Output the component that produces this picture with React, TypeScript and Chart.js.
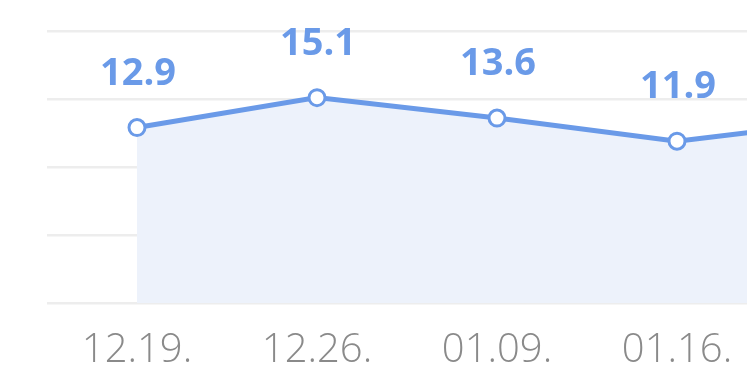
import React, { useEffect, useRef } from 'react';
import { Chart, registerables } from 'chart.js';

Chart.register(...registerables);

const categories = ['12.19.', '12.26.', '01.09.', '01.16.', '01.23.'];
const values = [12.9, 15.1, 13.6, 11.9, 13.5];
const yTicks = [0, 5, 10, 15, 20];

const LINE = '#6a9ae8';
const FILL = '#edf2fb';
const GRID = '#ededed';
const TICK = '#8a8a8a';

const valueLabels = {
  id: 'valueLabels',
  afterDatasetsDraw(chart: any) {
    const ctx = chart.ctx;
    const meta = chart.getDatasetMeta(0);
    ctx.save();
    ctx.font = 'bold 38px "Open Sans"';
    ctx.fillStyle = LINE;
    ctx.textAlign = 'center';
    ctx.textBaseline = 'alphabetic';
    meta.data.forEach((pt: any, i: number) => {
      ctx.fillText(values[i].toFixed(1), pt.x + 1, pt.y - 43);
    });
    ctx.restore();
  },
};

export default function App() {
  const ref = useRef<HTMLCanvasElement | null>(null);
  useEffect(() => {
    document.body.style.margin = '0';
    document.body.style.overflow = 'hidden';
    const canvas = ref.current!;
    const chart = new Chart(canvas, {
      type: 'line',
      data: {
        labels: categories,
        datasets: [
          {
            data: values,
            borderColor: LINE,
            borderWidth: 5,
            backgroundColor: FILL,
            fill: 'origin',
            tension: 0,
            pointRadius: 8,
            pointBorderWidth: 3,
            pointBackgroundColor: '#ffffff',
            pointBorderColor: LINE,
          },
        ],
      },
      options: {
        responsive: false,
        maintainAspectRatio: false,
        animation: false,
        devicePixelRatio: 1,
        layout: { padding: { top: 31, left: 47, right: 47, bottom: 0 } },
        plugins: { legend: { display: false }, tooltip: { enabled: false } },
        scales: {
          x: {
            offset: true,
            grid: { display: false, drawTicks: false },
            border: { display: false },
            afterFit: (axis: any) => {
              axis.height = 87;
            },
            ticks: {
              color: TICK,
              padding: 24,
              font: { family: '"Open Sans"', size: 40, weight: '300' as any },
            },
          },
          y: {
            min: yTicks[0],
            max: yTicks[yTicks.length - 1],
            afterBuildTicks: (axis: any) => {
              axis.ticks = yTicks.map((v) => ({ value: v }));
            },
            grid: { color: GRID, lineWidth: 2.5, drawTicks: false },
            border: { display: false },
            ticks: { display: false },
          },
        },
      },
      plugins: [valueLabels],
    });
    return () => chart.destroy();
  }, []);
  return (
    <div style={{ position: 'fixed', left: 0, top: 0, width: 747, height: 390, overflow: 'hidden', background: '#fff' }}>
      <canvas ref={ref} width={994} height={390} style={{ width: 994, height: 390, display: 'block' }} />
    </div>
  );
}
